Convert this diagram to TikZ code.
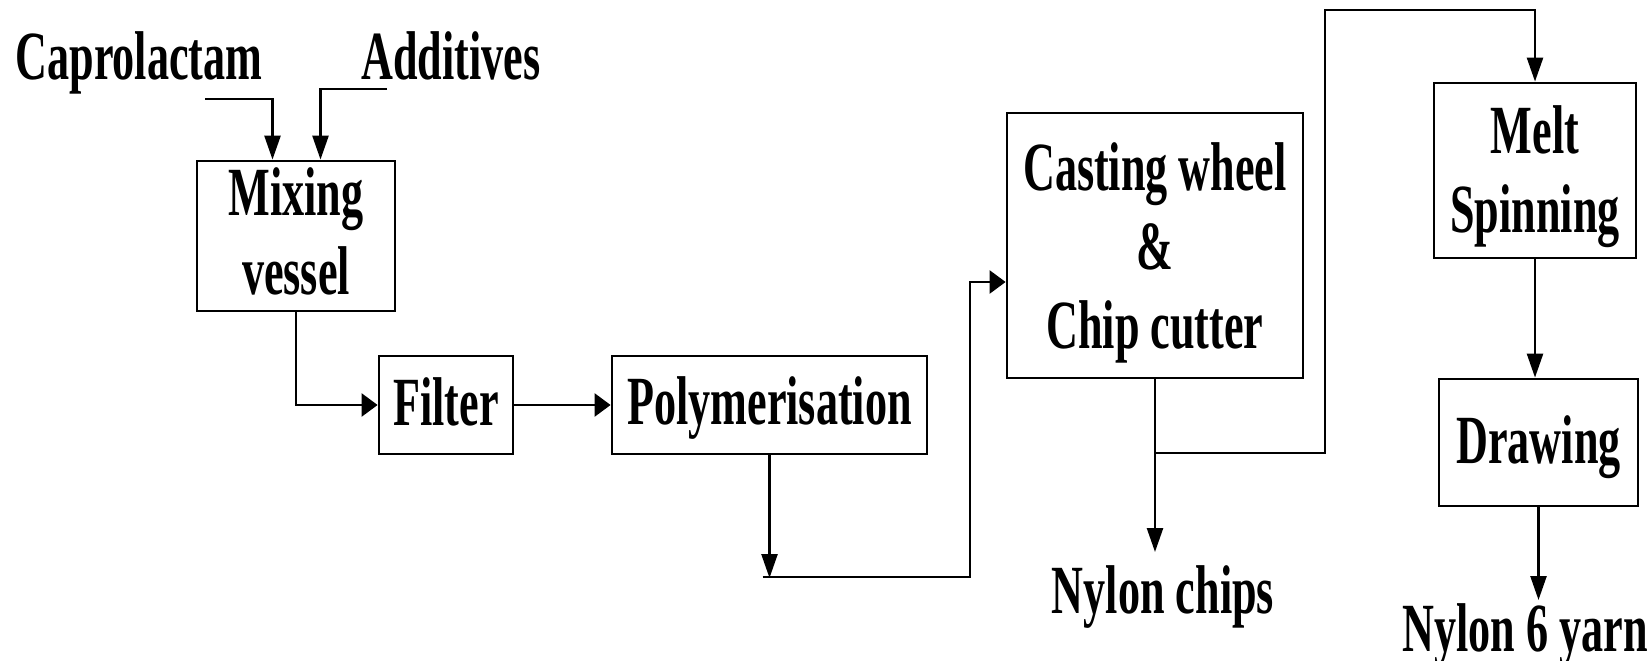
\documentclass[tikz,border=0pt]{standalone}
\usepackage{fontspec}
\usetikzlibrary{arrows.meta}
\newfontfamily\condfont[FakeStretch=0.64]{Liberation Serif}
\newcommand{\nodepth}[2]{\raisebox{0pt}[\height][#1]{#2}}
\tikzset{
  box/.style={draw, line width=2.8pt, inner sep=0pt, align=center},
  txt/.style={font=\condfont\bfseries\fontsize{69}{79}\selectfont},
  lbl/.style={inner sep=0pt, anchor=base},
  vline/.style={line width=2.5pt, -{Triangle[length=24pt,width=16pt]}},
  hline/.style={line width=2.6pt, -{Triangle[length=16pt,width=23pt]}}
}
\begin{document}
\begin{tikzpicture}[x=1pt,y=-1pt]
\useasboundingbox (0,0) rectangle (1652,661);
% boxes
\node[box, txt, minimum width=198pt, minimum height=150pt] (mix) at (296,236) {Mixing\\\nodepth{9pt}{vessel}};
\node[box, txt, minimum width=134pt, minimum height=98pt, text depth=7pt] (filter) at (446,405) {Filter};
\node[box, txt, minimum width=315pt, minimum height=98pt, text depth=9pt] (poly) at (769.5,405) {Polymerisation};
\node[box, txt, minimum width=296pt, minimum height=265pt] (cast) at (1155,245.5) {Casting wheel\\\&\\\nodepth{0pt}{Chip cutter}};
\node[box, txt, minimum width=202pt, minimum height=175pt] (melt) at (1535,170.5) {Melt\\\nodepth{3pt}{Spinning}};
\node[box, txt, minimum width=199pt, minimum height=127pt, text depth=6pt] (drw) at (1538.5,442.5) {Drawing};
% labels
\node[lbl, txt] (capro) at (139,79) {Caprolactam};
\node[lbl, txt] (addi) at (451,80) {Additives};
\node[lbl, txt] (chips) at (1163,613) {Nylon chips};
\node[lbl, txt] (yarn) at (1525,651) {Nylon 6 yarn};
% helper coordinates
\coordinate (cin) at (205,99);
\coordinate (ain) at (387,89);
\coordinate (p1) at (768,578);
\coordinate (p2) at (970,577);
\coordinate (b1) at (1155,453);
\coordinate (t1) at (1325,10);
\coordinate (chipsin) at (1155,552);
\coordinate (yarnin) at (1540,600);
% connectors
\draw[vline] (cin) -| ([xshift=-23.5pt]mix.north);
\draw[vline] (ain) -| ([xshift=24.5pt]mix.north);
\draw[hline] (mix.south) |- (filter.west);
\draw[hline] (filter.east) -- (poly.west);
\draw[vline] (poly.south) -- (poly.south |- p1);
\draw[hline] ([xshift=-7pt]poly.south |- p2) -- (p2) |- ([yshift=-36.5pt]cast.west);
\draw[vline] (cast.south) -- (cast.south |- chipsin);
\draw[vline] (cast.south |- b1) -| (t1) -| (melt.north);
\draw[vline] (melt.south) -- (melt.south |- drw.north);
\draw[vline] (drw.south) -- (drw.south |- yarnin);
\end{tikzpicture}
\end{document}
